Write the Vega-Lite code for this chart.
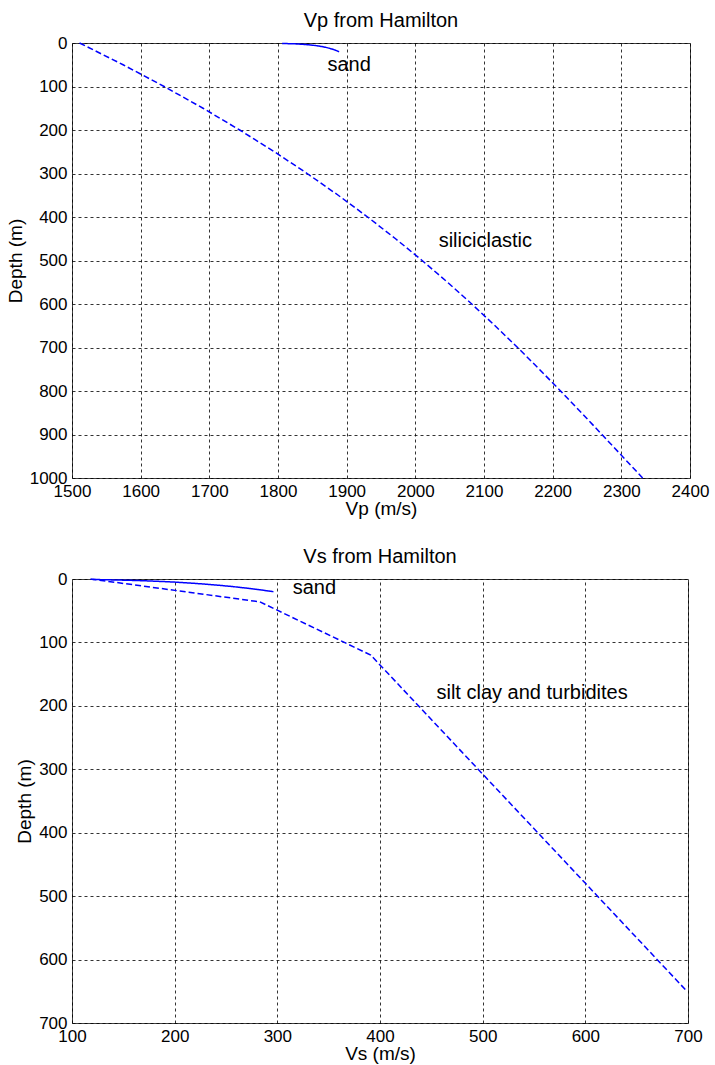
{
  "$schema": "https://vega.github.io/schema/vega-lite/v6.json",
  "padding": {"left": 5, "top": 10, "right": 20, "bottom": 2},
  "background": "white",
  "spacing": 27,
  "resolve": {"scale": {"strokeDash": "independent"}},
  "vconcat": [
    {
      "width": 618,
      "height": 435,
      "title": "Vp from Hamilton",
      "layer": [
        {
          "data": {
            "values": [
              {"sediment": "siliciclastic", "depth": 0, "vp": 1511},
              {"sediment": "siliciclastic", "depth": 50, "vp": 1574.4},
              {"sediment": "siliciclastic", "depth": 100, "vp": 1634.2},
              {"sediment": "siliciclastic", "depth": 150, "vp": 1690.8},
              {"sediment": "siliciclastic", "depth": 200, "vp": 1744.2},
              {"sediment": "siliciclastic", "depth": 250, "vp": 1794.7},
              {"sediment": "siliciclastic", "depth": 300, "vp": 1842.5},
              {"sediment": "siliciclastic", "depth": 350, "vp": 1887.7},
              {"sediment": "siliciclastic", "depth": 400, "vp": 1930.5},
              {"sediment": "siliciclastic", "depth": 450, "vp": 1971.2},
              {"sediment": "siliciclastic", "depth": 500, "vp": 2009.9},
              {"sediment": "siliciclastic", "depth": 550, "vp": 2046.8},
              {"sediment": "siliciclastic", "depth": 600, "vp": 2082.2},
              {"sediment": "siliciclastic", "depth": 650, "vp": 2116.1},
              {"sediment": "siliciclastic", "depth": 700, "vp": 2148.9},
              {"sediment": "siliciclastic", "depth": 750, "vp": 2180.6},
              {"sediment": "siliciclastic", "depth": 800, "vp": 2211.5},
              {"sediment": "siliciclastic", "depth": 850, "vp": 2241.9},
              {"sediment": "siliciclastic", "depth": 900, "vp": 2271.7},
              {"sediment": "siliciclastic", "depth": 950, "vp": 2301.4},
              {"sediment": "siliciclastic", "depth": 1000, "vp": 2331},
              {"sediment": "sand", "depth": 1, "vp": 1806},
              {"sediment": "sand", "depth": 2, "vp": 1824.9},
              {"sediment": "sand", "depth": 3, "vp": 1836},
              {"sediment": "sand", "depth": 4, "vp": 1843.9},
              {"sediment": "sand", "depth": 5, "vp": 1850.1},
              {"sediment": "sand", "depth": 6, "vp": 1855.2},
              {"sediment": "sand", "depth": 8, "vp": 1863.2},
              {"sediment": "sand", "depth": 10, "vp": 1869.5},
              {"sediment": "sand", "depth": 12, "vp": 1874.6},
              {"sediment": "sand", "depth": 14, "vp": 1878.9},
              {"sediment": "sand", "depth": 16, "vp": 1882.7},
              {"sediment": "sand", "depth": 18, "vp": 1886},
              {"sediment": "sand", "depth": 20, "vp": 1889}
            ]
          },
          "mark": {"type": "line", "color": "#0000ff", "strokeWidth": 1.5},
          "encoding": {
            "x": {
              "field": "vp", "type": "quantitative",
              "scale": {"domain": [1500, 2400], "nice": false, "zero": false},
              "axis": {"title": "Vp (m/s)", "format": "d", "values": [1500, 1600, 1700, 1800, 1900, 2000, 2100, 2200, 2300, 2400]}
            },
            "y": {
              "field": "depth", "type": "quantitative",
              "scale": {"domain": [0, 1000], "reverse": true, "nice": false},
              "axis": {"title": "Depth (m)", "format": "d", "values": [0, 100, 200, 300, 400, 500, 600, 700, 800, 900, 1000]}
            },
            "strokeDash": {
              "field": "sediment", "type": "nominal",
              "scale": {"domain": ["sand", "siliciclastic"], "range": [[1, 0], [6, 3]]},
              "legend": null
            },
            "order": {"field": "depth", "type": "quantitative"}
          }
        },
        {
          "data": {
            "values": [
              {"label": "sand", "vp": 1872, "depth": 50},
              {"label": "siliciclastic", "vp": 2034, "depth": 456}
            ]
          },
          "mark": {"type": "text", "align": "left", "baseline": "middle", "fontSize": 20, "color": "#000"},
          "encoding": {
            "x": {"field": "vp", "type": "quantitative"},
            "y": {"field": "depth", "type": "quantitative"},
            "text": {"field": "label"}
          }
        }
      ]
    },
    {
      "width": 616,
      "height": 444,
      "title": "Vs from Hamilton",
      "layer": [
        {
          "data": {
            "values": [
              {"sediment": "silt clay and turbidites", "depth": 0, "vs": 118},
              {"sediment": "silt clay and turbidites", "depth": 36, "vs": 283},
              {"sediment": "silt clay and turbidites", "depth": 120, "vs": 391},
              {"sediment": "silt clay and turbidites", "depth": 650, "vs": 699},
              {"sediment": "sand", "depth": 0.8, "vs": 120},
              {"sediment": "sand", "depth": 1, "vs": 128},
              {"sediment": "sand", "depth": 2, "vs": 155.4},
              {"sediment": "sand", "depth": 3, "vs": 174.1},
              {"sediment": "sand", "depth": 4, "vs": 188.7},
              {"sediment": "sand", "depth": 5, "vs": 200.9},
              {"sediment": "sand", "depth": 6, "vs": 211.4},
              {"sediment": "sand", "depth": 8, "vs": 229.1},
              {"sediment": "sand", "depth": 10, "vs": 243.9},
              {"sediment": "sand", "depth": 12, "vs": 256.7},
              {"sediment": "sand", "depth": 14, "vs": 268},
              {"sediment": "sand", "depth": 16, "vs": 278.2},
              {"sediment": "sand", "depth": 18, "vs": 287.5},
              {"sediment": "sand", "depth": 20, "vs": 296.2}
            ]
          },
          "mark": {"type": "line", "color": "#0000ff", "strokeWidth": 1.5},
          "encoding": {
            "x": {
              "field": "vs", "type": "quantitative",
              "scale": {"domain": [100, 700], "nice": false, "zero": false},
              "axis": {"title": "Vs (m/s)", "format": "d", "values": [100, 200, 300, 400, 500, 600, 700]}
            },
            "y": {
              "field": "depth", "type": "quantitative",
              "scale": {"domain": [0, 700], "reverse": true, "nice": false},
              "axis": {"title": "Depth (m)", "format": "d", "values": [0, 100, 200, 300, 400, 500, 600, 700]}
            },
            "strokeDash": {
              "field": "sediment", "type": "nominal",
              "scale": {"domain": ["sand", "silt clay and turbidites"], "range": [[1, 0], [6, 3]]},
              "legend": null
            },
            "order": {"field": "depth", "type": "quantitative"}
          }
        },
        {
          "data": {
            "values": [
              {"label": "sand", "vs": 315, "depth": 14},
              {"label": "silt clay and turbidites", "vs": 455, "depth": 179}
            ]
          },
          "mark": {"type": "text", "align": "left", "baseline": "middle", "fontSize": 20, "color": "#000"},
          "encoding": {
            "x": {"field": "vs", "type": "quantitative"},
            "y": {"field": "depth", "type": "quantitative"},
            "text": {"field": "label"}
          }
        }
      ]
    }
  ],
  "config": {
    "font": "Liberation Sans",
    "view": {"stroke": "#404040", "strokeWidth": 1},
    "axis": {
      "domain": false,
      "ticks": false,
      "grid": true,
      "gridColor": "#000000",
      "gridDash": [3, 3],
      "gridWidth": 1,
      "gridOpacity": 0.8,
      "labelFontSize": 17,
      "labelColor": "#000000",
      "titleFontSize": 19,
      "titleFontWeight": "normal",
      "titleColor": "#000000"
    },
    "axisX": {"labelFlush": false, "labelPadding": 5, "titlePadding": 0, "labelOverlap": false},
    "axisY": {"labelPadding": 5, "titlePadding": 4, "labelOverlap": false},
    "title": {"fontSize": 20, "fontWeight": "normal", "color": "#000000", "offset": 3}
  }
}
